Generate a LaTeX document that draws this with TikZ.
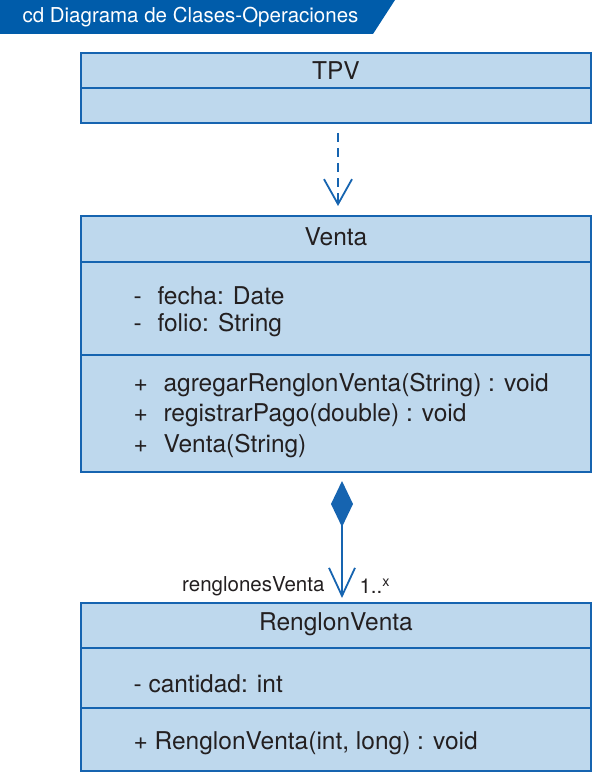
\documentclass[tikz,border=0pt]{standalone}
\usepackage{fontspec}
\setmainfont{TeX Gyre Heros}
\usetikzlibrary{arrows.meta}
\definecolor{umlfill}{RGB}{190,216,237}
\definecolor{umlline}{RGB}{22,100,176}
\definecolor{tabblue}{RGB}{0,92,170}
\definecolor{txt}{RGB}{35,31,32}
\tikzset{
  classbox/.style={draw=umlline, fill=umlfill, line width=1.8pt, minimum width=510pt, anchor=north west, inner sep=0pt},
  divider/.style={draw=umlline, line width=1.8pt},
  title/.style={font=\fontsize{24.5}{28}\selectfont, text=txt},
  member/.style={font=\fontsize{24.5}{28}\selectfont, text=txt, anchor=west},
  lbl/.style={font=\fontsize{20.5}{24}\selectfont, text=txt},
  conn/.style={draw=umlline, line width=1.8pt},
}
\begin{document}
\begin{tikzpicture}[x=1pt,y=-1pt]
\useasboundingbox (0,0) rectangle (599,778);
% header tab
\fill[tabblue] (0,0) -- (395,0) -- (373,34) -- (0,34) -- cycle;
\node[anchor=west, text=white, font=\fontsize{20.5}{24}\selectfont] (hdr) at (19,17) {cd Diagrama de Clases-Operaciones};
% TPV
\node[classbox, minimum height=70pt] (tpv) at (80,52) {};
\draw[divider] (80,88) -- (590,88);
\node[title] (tpvt) at (336,71) {TPV};
% Venta
\node[classbox, minimum height=256pt] (venta) at (80,215) {};
\draw[divider] (80,262) -- (590,262);
\draw[divider] (80,355) -- (590,355);
\node[title] (ventat) at (336,237) {Venta};
\node[member] (a1) at (130,296) {\makebox[24pt][l]{-}fecha: Date};
\node[member] (a2) at (130,325) {\makebox[24pt][l]{-}folio: String};
\node[member] (o1) at (130,385) {\makebox[30pt][l]{+}agregarRenglonVenta(String) : void};
\node[member] (o2) at (130,415) {\makebox[30pt][l]{+}registrarPago(double) : void};
\node[member] (o3) at (130,446) {\makebox[30pt][l]{+}Venta(String)};
% RenglonVenta
\node[classbox, minimum height=168pt] (rv) at (80,602) {};
\draw[divider] (80,648) -- (590,648);
\draw[divider] (80,708) -- (590,708);
\node[title] (rvt) at (336,624) {RenglonVenta};
\node[member] (r1) at (130,684) {- cantidad: int};
\node[member] (r2) at (130,743) {+ RenglonVenta(int, long) : void};
% connectors
\coordinate (d1) at (338,133);
\coordinate (d2) at (338,206);
\draw[conn, dash pattern=on 9pt off 6pt, -{Straight Barb[length=25pt,width=28pt,line width=1.8pt]}] (d1) -- (d2);
\coordinate (c1) at (342,481);
\coordinate (c2) at (342,598);
\draw[conn, {Diamond[length=46pt,width=22pt,fill=umlline]}-{Straight Barb[length=28pt,width=26pt,line width=1.8pt]}] (c1) -- (c2);
\node[lbl, anchor=east] (role) at (328,586) {renglonesVenta};
\node[lbl, anchor=west] (mult) at (356,586) {1..\textsuperscript{x}};
\end{tikzpicture}
\end{document}
